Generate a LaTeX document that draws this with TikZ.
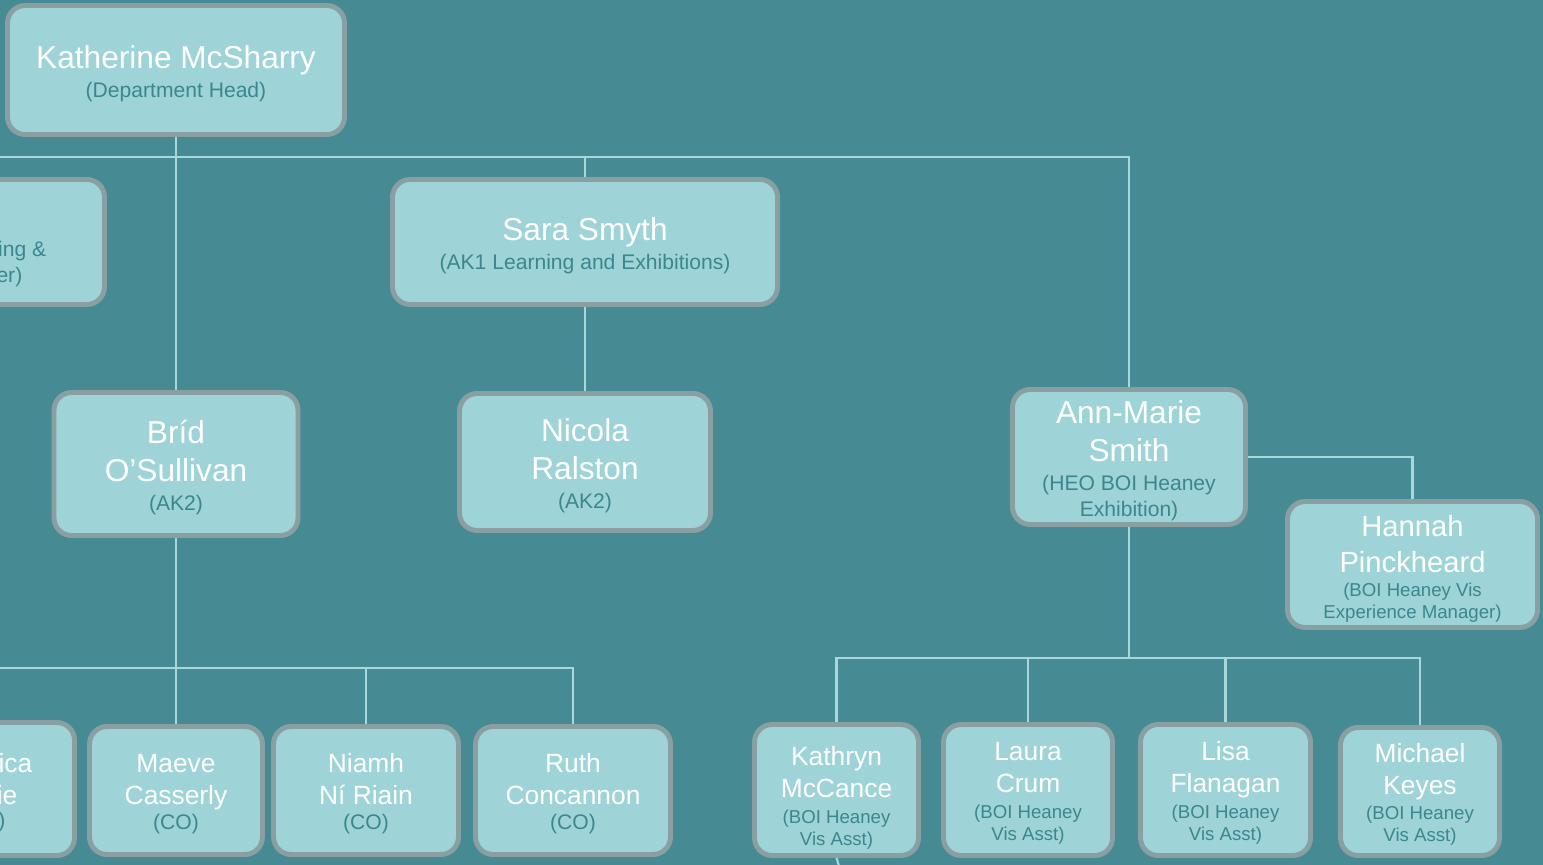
\documentclass[tikz,border=0pt]{standalone}
\usepackage{fontspec}
\setmainfont{Liberation Sans}
\usepackage{tikz}
\definecolor{bgteal}{HTML}{468A94}
\definecolor{boxfill}{HTML}{9ED3D8}
\definecolor{boxedge}{HTML}{8A9FA1}
\definecolor{linkcol}{HTML}{A9D7DB}
\definecolor{roletxt}{HTML}{3B878D}
\newcommand{\rl}[1]{{\color{roletxt}\fontsize{6}{7}\selectfont #1}}
\newcommand{\rls}[1]{{\color{roletxt}\fontsize{5.3}{6.3}\selectfont #1}}
\newcommand{\hi}{\rule{0pt}{9pt}}
\newcommand{\hs}{\rule{0pt}{7.5pt}}
\newcommand{\lo}{\rule[-1.6pt]{0pt}{0pt}}

\begin{document}
\begin{tikzpicture}[x=0.01cm, y=-0.01cm,
    person/.style={draw=boxedge, line width=1.4pt, fill=boxfill, rounded corners=5pt,
      text=white, align=center, inner sep=0pt},
    big/.style={person, font=\fontsize{9}{10.8}\selectfont},
    small/.style={person, font=\fontsize{7.5}{9.1}\selectfont},
    dims/.style 2 args={minimum width=#1*0.01cm, minimum height=#2*0.01cm},
    bit/.style={anchor=east, inner sep=0pt, text=white},
    link/.style={draw=linkcol, line width=0.6pt}]
        \useasboundingbox (0,0) rectangle (1543,865);
        \clip (0,0) rectangle (1543,865);
        \fill[bgteal] (0,0) rectangle (1543,865);

        % Draw the head of department
        \node[big, dims={337}{129}] (boss) at (176,70) {\hi Katherine McSharry\\[-2.8pt]\rl{(Department Head)}\lo};

        % Draw the second level
        \node[big, dims={385}{125}] (learn) at (-88,242) {};
        \node[bit] (learnA) at (47,251) {\rl{ing \&}};
        \node[bit] (learnB) at (23,277) {\rl{er)}};
        \node[big, dims={385}{125}] (sara) at (585,242) {\hi Sara Smyth\\[-2.8pt]\rl{(AK1 Learning and Exhibitions)}\lo};

        % Draw the third level
        \node[big, dims={244}{143}] (brid) at (176,464) {\hi Bríd\\O’Sullivan\\[-2.8pt]\rl{(AK2)}\lo};
        \node[big, dims={251}{137}] (nicola) at (585,462) {\hi Nicola\\Ralston\\[-2.8pt]\rl{(AK2)}\lo};
        \node[big, dims={233}{135}] (ann) at (1129,457) {\hi Ann-Marie\\Smith\\[-2.8pt]\rl{(HEO BOI Heaney}\\[-3.4pt]\rl{Exhibition)}\lo};
        \node[person, font=\fontsize{8.3}{10.2}\selectfont, dims={250}{126}] (hannah) at (1412.5,564.5)
            {\hi Hannah\\Pinckheard\\[-3.3pt]\rls{(BOI Heaney Vis}\\[-3.9pt]\rls{Experience Manager)}\lo};

        % Draw the bottom row
        \node[small, dims={175}{133}] (co0) at (-13,789) {};
        \node[bit, font=\fontsize{7.5}{9.1}\selectfont] (co0A) at (33,763) {ica};
        \node[bit, font=\fontsize{7.5}{9.1}\selectfont] (co0B) at (18,795) {ie};
        \node[bit] (co0C) at (6,822) {\rl{)}};
        \node[small, dims={173}{128}] (maeve) at (176,790.5) {\hs Maeve\\Casserly\\[-2.0pt]\rl{(CO)}\lo};
        \node[small, dims={185}{128}] (niamh) at (366,790.5) {\hs Niamh\\Ní Riain\\[-2.0pt]\rl{(CO)}\lo};
        \node[small, dims={195}{128}] (ruth) at (573,790.5) {\hs Ruth\\Concannon\\[-2.0pt]\rl{(CO)}\lo};
        \node[small, dims={164}{131}] (kathryn) at (836.5,790) {\rule{0pt}{10.5pt}Kathryn\\McCance\\[-1.9pt]\rls{(BOI Heaney}\\[-2.85pt]\rls{Vis Asst)}\lo};
        \node[small, dims={169}{131}] (laura) at (1028,790) {\hs Laura\\Crum\\[-1.9pt]\rls{(BOI Heaney}\\[-2.85pt]\rls{Vis Asst)}\lo};
        \node[small, dims={170}{131}] (lisa) at (1225.5,790) {\hs Lisa\\Flanagan\\[-1.9pt]\rls{(BOI Heaney}\\[-2.85pt]\rls{Vis Asst)}\lo};
        \node[small, dims={159}{128}] (michael) at (1420,791.5) {\hs Michael\\Keyes\\[-1.9pt]\rls{(BOI Heaney}\\[-2.85pt]\rls{Vis Asst)}\lo};

        % Draw the connectors
        \coordinate (top) at (176,157);
        \coordinate (mid) at (176,668);
        \coordinate (right) at (1129,658);
        \coordinate (kdown) at (839,866);
        \draw[link] (boss) -- (brid);
        \draw[link] (learn.north) |- (top) -| (sara.north);
        \draw[link] (top) -| (ann.north);
        \draw[link] (sara) -- (nicola);
        \draw[link] (ann.east) -| (hannah.north);
        \draw[link] (brid) -- (maeve);
        \draw[link] (co0.north) |- (mid) -| (ruth.north);
        \draw[link] (mid) -| (niamh.north);
        \draw[link] (ann) -- (right);
        \draw[link] (kathryn.north) |- (right) -| (michael.north);
        \draw[link] (laura.north) |- (right);
        \draw[link] (lisa.north) |- (right);
        \draw[link] (kathryn.south) -- (kdown);
    \end{tikzpicture}
\end{document}
